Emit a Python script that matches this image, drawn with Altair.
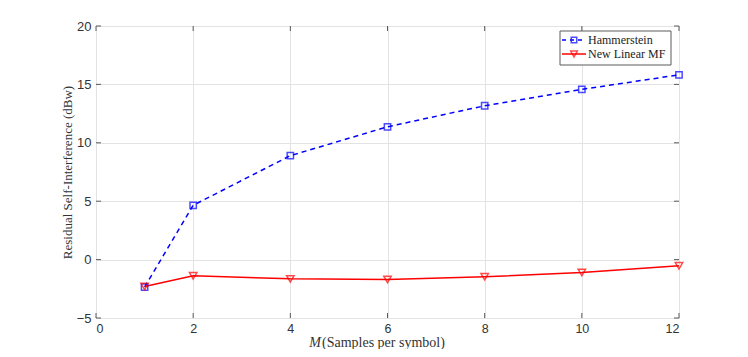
import altair as alt
import pandas as pd

# ---- data ----
M_values = [1, 2, 4, 6, 8, 10, 12]
hammerstein = [-2.35, 4.65, 8.9, 11.37, 13.17, 14.57, 15.82]
new_linear_mf = [-2.3, -1.39, -1.65, -1.7, -1.47, -1.1, -0.53]
series_names = ["Hammerstein", "New Linear MF"]
x_ticks = [0, 2, 4, 6, 8, 10, 12]
y_ticks = [-5, 0, 5, 10, 15, 20]

W, H = 583, 292
BLUE = "#0000ff"
RED = "#ff0000"
FRAME = "#5a5a5a"
SERIF = "Liberation Serif"
SANS = "Liberation Sans"

df = pd.DataFrame({
    "M": M_values * 2,
    "value": hammerstein + new_linear_mf,
    "series": [series_names[0]] * len(M_values) + [series_names[1]] * len(M_values),
})
xt = pd.DataFrame({"M": x_ticks})
yt = pd.DataFrame({"value": y_ticks})

x_scale = alt.Scale(domain=[0, 12], nice=False, zero=False)
y_scale = alt.Scale(domain=[-5, 20], nice=False, zero=False)

x_axis = alt.Axis(
    values=x_ticks, ticks=False, domain=False, grid=True, gridColor="#e3e3e3",
    labelFont=SANS, labelFontSize=12.5, labelColor="#333333", labelPadding=4,
    title=None)
y_axis = alt.Axis(
    values=y_ticks, ticks=False, domain=False, grid=True, gridColor="#e3e3e3",
    labelFont=SANS, labelFontSize=13, labelColor="#333333", labelPadding=5,
    title="Residual Self-Interference (dBw)", titleFont=SERIF, titleFontSize=13,
    titleFontWeight="normal", titleColor="#333333", titlePadding=2)

X = alt.X("M:Q", scale=x_scale, axis=x_axis)
Y = alt.Y("value:Q", scale=y_scale, axis=y_axis)

TL = 5
ticks_bottom = alt.Chart(xt).mark_rule(color=FRAME).encode(x=X, y=alt.value(H), y2=alt.value(H - TL))
ticks_top = alt.Chart(xt).mark_rule(color=FRAME).encode(x=X, y=alt.value(0), y2=alt.value(TL))
ticks_left = alt.Chart(yt).mark_rule(color=FRAME).encode(y=Y, x=alt.value(0), x2=alt.value(TL))
ticks_right = alt.Chart(yt).mark_rule(color=FRAME).encode(y=Y, x=alt.value(W), x2=alt.value(W - TL))

ham = df[df.series == series_names[0]]
lin = df[df.series == series_names[1]]

ham_line = alt.Chart(ham).mark_line(color=BLUE, strokeWidth=1.5, strokeDash=[5, 4]).encode(x=X, y=Y)
ham_pts = alt.Chart(ham).mark_point(shape="square", filled=False, color=BLUE, size=40, strokeWidth=1.5).encode(x=X, y=Y)
lin_line = alt.Chart(lin).mark_line(color=RED, strokeWidth=1.5).encode(x=X, y=Y)
lin_pts = alt.Chart(lin).mark_point(shape="triangle-down", filled=False, color=RED, size=55, strokeWidth=1.5).encode(x=X, y=Y)

# x-axis title with italic M
one = pd.DataFrame({"a": [0]})
xtitle_m = alt.Chart(one).mark_text(font=SERIF, fontSize=14, fontStyle="italic", color="#333333",
                                    align="right", baseline="alphabetic").encode(
    x=alt.value(225), y=alt.value(321), text=alt.value("M"))
xtitle_rest = alt.Chart(one).mark_text(font=SERIF, fontSize=14, color="#333333",
                                       align="left", baseline="alphabetic").encode(
    x=alt.value(226), y=alt.value(321), text=alt.value("(Samples per symbol)"))

# legend
LX0, LX1, LY0, LY1 = 464, 575, 5, 39
R1, R2 = 14, 28
leg_box = alt.Chart(one).mark_rect(fill="white", stroke=FRAME, strokeWidth=1).encode(
    x=alt.value(LX0), x2=alt.value(LX1), y=alt.value(LY0), y2=alt.value(LY1))
leg_l1 = alt.Chart(one).mark_rule(color=BLUE, strokeWidth=1.5, strokeDash=[4, 4]).encode(
    x=alt.value(466), x2=alt.value(490), y=alt.value(R1))
leg_p1 = alt.Chart(one).mark_point(shape="square", filled=False, color=BLUE, size=30, strokeWidth=1.5).encode(
    x=alt.value(478), y=alt.value(R1))
leg_t1 = alt.Chart(one).mark_text(font=SERIF, fontSize=12, color="#222222", align="left", baseline="middle").encode(
    x=alt.value(492), y=alt.value(R1), text=alt.value(series_names[0]))
leg_l2 = alt.Chart(one).mark_rule(color=RED, strokeWidth=1.5).encode(
    x=alt.value(466), x2=alt.value(490), y=alt.value(R2))
leg_p2 = alt.Chart(one).mark_point(shape="triangle-down", filled=False, color=RED, size=45, strokeWidth=1.5).encode(
    x=alt.value(478), y=alt.value(R2))
leg_t2 = alt.Chart(one).mark_text(font=SERIF, fontSize=12, color="#222222", align="left", baseline="middle").encode(
    x=alt.value(492), y=alt.value(R2), text=alt.value(series_names[1]))

chart = alt.layer(
    ticks_bottom, ticks_top, ticks_left, ticks_right,
    ham_line, lin_line, ham_pts, lin_pts,
    xtitle_m, xtitle_rest,
    leg_box, leg_l1, leg_p1, leg_t1, leg_l2, leg_p2, leg_t2,
).properties(
    width=W, height=H,
    autosize=alt.AutoSizeParams(type="none"),
    padding={"left": 88, "top": 18, "right": 61, "bottom": 31},
).configure_view(stroke=FRAME, strokeWidth=1).configure(background="white")

chart.save("out.html", embed_options={"renderer": "svg", "actions": False})
